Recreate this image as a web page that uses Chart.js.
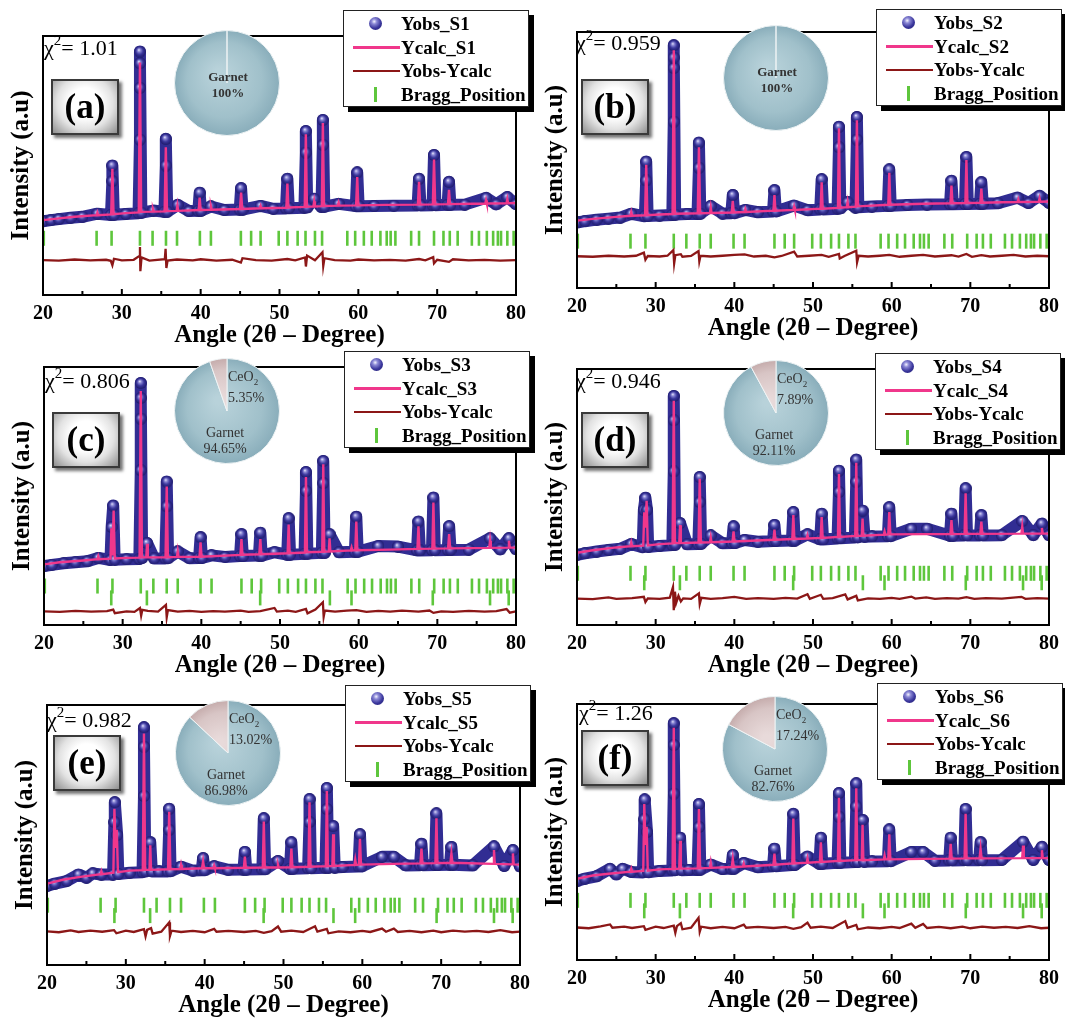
<!DOCTYPE html>
<html>
<head>
<meta charset="utf-8">
<script src="https://cdn.jsdelivr.net/npm/chart.js@4.4.1/dist/chart.umd.min.js"></script>
<style>
  body { margin: 0; background: #fff; }
  #page { position: relative; width: 1065px; height: 1021px; overflow: hidden;
          font-family: "Liberation Serif", "Times New Roman", serif; color: #000; }
  #page canvas { position: absolute; }
  .legend { position: absolute; width: 186px; height: 97px; box-sizing: border-box;
            border: 1.5px solid #222; background: #fff; box-shadow: 5px 5px 0 #000;
            font-weight: bold; font-size: 19px; padding-top: 1px; }
  .legend .row { height: 23.7px; display: flex; align-items: center; white-space: nowrap; }
  .legend .ico { position: relative; width: 57px; height: 23px; flex: none; }
  .ball { position: absolute; left: 25px; top: 5px; width: 13px; height: 13px; border-radius: 50%;
          background: radial-gradient(circle at 40% 35%, #f4f4ff 0, #8c89d6 22%, #3a369c 58%, #1e1b6b 100%); }
  .ln { position: absolute; left: 9px; width: 47px; top: 10px; height: 2.5px; }
  .tk { position: absolute; left: 30px; top: 4px; width: 2.5px; height: 15px; background: #5ec63c; }
  .tag { position: absolute; width: 68px; height: 56px; box-sizing: border-box;
         border: 2px solid #3a3a3a;
         background: radial-gradient(ellipse at 50% 42%, #ffffff 35%, #e2e2e2 62%, #8f8f8f 100%);
         box-shadow: 3px 3px 3px rgba(0,0,0,.55);
         font-weight: bold; font-size: 35px; display: flex; align-items: center; justify-content: center; }
  .chi { position: absolute; font-size: 22px; line-height: 1; white-space: nowrap; }
  .chi sup { font-size: 15px; position: relative; top: -2px; }
  .pielab { position: absolute; font-size: 14px; line-height: 16px; color: #333; white-space: nowrap; }
  .pielab sub { font-size: 9px; }
</style>
</head>
<body>
<div id="page"></div>
<script>
// ---- data (2θ in degrees, intensity in arbitrary units 0–100) ----
const sampleNames = ['S1', 'S2', 'S3', 'S4', 'S5', 'S6'];
const panelLetters = ['(a)', '(b)', '(c)', '(d)', '(e)', '(f)'];
const chiSquared = ['1.01', '0.959', '0.806', '0.946', '0.982', '1.26'];
const garnetPct = [100, 100, 94.65, 92.11, 86.98, 82.76];
const ceo2Pct = [0, 0, 5.35, 7.89, 13.02, 17.24];

const xMajor = [20, 30, 40, 50, 60, 70, 80];
const xMinor = [25, 35, 45, 55, 65, 75];

const garnetBragg = [20.1, 26.8, 28.7, 32.3, 33.9, 35.6, 37.0, 39.9, 41.3, 45.1, 46.4, 47.6, 49.9, 51.0,
  52.3, 53.3, 54.5, 55.4, 58.6, 59.6, 60.7, 61.7, 62.8, 63.6, 64.1, 64.7, 66.7, 67.7, 69.6, 70.8,
  71.6, 72.6, 74.4, 75.3, 76.3, 77.1, 77.7, 78.1, 78.9, 79.7];
const ceo2Bragg = [28.55, 33.08, 47.48, 56.34, 59.09, 69.42, 76.70, 79.07];
const garnetTickLevel = [21.9, 18.3, 15.1, 20.2, 23.0, 23.3];
const ceo2TickLevel = [null, null, 10.5, 16.5, 19.0, 19.2];

const yobsS1 = [[20,28.5],[21,28.9],[22,29.3],[23.5,29.8],[25,30.2],[26.9,31.4],[28.62,30.9],[28.8,44],[28.8,50.0],[28.98,31.0],
  [30.5,31.3],[32.12,31.6],[32.3,60],[32.3,80],[32.3,94.0],[32.3,89.5],[32.48,31.8],[34.0,32.6],
  [35.4,32.1],[35.58,50],[35.58,60.3],[35.76,32.2],[37.1,34.8],[38.5,32.4],[39.7,32.5],[39.87,39.5],[40.04,32.5],
  [41.3,34.2],[43,32.8],[44.95,33.0],[45.13,41.2],[45.31,33.0],[47.6,34.4],[49.2,33.3],
  [50.82,33.4],[51.0,44.9],[51.18,33.5],[53.16,33.7],[53.34,55],[53.34,63.3],[53.52,33.8],
  [54.4,37.2],[55.32,34.0],[55.5,58],[55.5,67.6],[55.68,34.1],[57.5,35.2],
  [59.68,34.3],[59.86,47.3],[60.04,34.3],[62,34.4],[64.5,34.5],[67.52,34.6],[67.7,44.9],[67.88,34.6],
  [69.42,34.7],[69.6,54.1],[69.78,34.7],[71.32,34.8],[71.5,43.7],[71.68,34.8],
  [73.5,34.9],[76.2,37.5],[77.5,35.0],[78.9,37.8],[80,35.1]];
const ycalcS1 = [[20,28.9],[22,29.6],[24,30.2],[26.8,30.8],[26.9,31.8],[27.0,30.8],[28.65,31.1],[28.8,48.7],[28.95,31.2],
  [30.5,31.6],[32.15,31.9],[32.3,89.8],[32.45,32.1],[33.85,32.2],[33.95,33.2],[34.05,32.2],
  [35.43,32.3],[35.58,57.0],[35.73,32.4],[36.95,32.5],[37.05,34.6],[37.15,32.5],
  [39.75,32.8],[39.87,37.6],[40.0,32.8],[41.2,32.9],[41.3,34.2],[41.4,32.9],
  [44.98,33.2],[45.13,39.5],[45.28,33.2],[47.5,33.5],[47.6,34.4],[47.7,33.5],
  [50.87,33.7],[51.0,43.0],[51.13,33.8],[53.2,34.0],[53.34,62.1],[53.48,34.1],
  [54.3,34.2],[54.4,36.2],[54.5,34.2],[55.37,34.3],[55.5,66.4],[55.65,34.4],
  [57.4,34.5],[57.5,35.6],[57.6,34.5],[59.72,34.6],[59.86,45.5],[60.0,34.6],
  [63.5,34.8],[67.55,34.9],[67.7,43.7],[67.85,34.9],[69.45,35.0],[69.6,52.3],[69.75,35.0],
  [71.37,35.1],[71.5,40.6],[71.63,35.1],[76.1,35.3],[76.2,36.6],[76.3,35.3],
  [78.8,35.4],[78.9,37.0],[79.0,35.4],[80,35.5]];
const diffS1 = [[20,13.5],[22,13.3],[24,13.7],[26,13.4],[28,13.6],[28.6,13.2],[28.8,11.5],[29.0,14.0],[30,13.4],[31.5,13.6],
  [32.2,15],[32.3,18.5],[32.35,9.2],[32.5,14.5],[33.5,13.3],[35.45,13.8],[35.55,17.8],[35.65,10.4],[35.8,13.3],
  [37,13.7],[39,13.4],[40,13.8],[42,13.3],[44,13.6],[45.1,12.5],[45.3,14.2],[47,13.5],[49,13.3],[51,13.9],[52,13.4],
  [53.25,14.5],[53.35,11.0],[53.5,15.2],[54.5,13.4],[55.45,16.5],[55.55,11.2],[55.7,14.2],[57,13.5],[59,13.3],
  [60,13.7],[62,13.4],[64,13.6],[66,13.3],[67.7,13.9],[68.5,13.4],[69.5,14.6],[69.6,12.2],[70,13.6],[71.5,12.8],
  [72,13.8],[74,13.4],[76,13.6],[78,13.3],[80,13.5]];

const yobsS2 = [[20,25.6],[21,26.1],[22.5,26.7],[24,27.1],[25.5,27.5],[26.9,29.0],[28.62,28.0],[28.8,42],[28.8,49.4],[28.98,28.1],
  [30.5,28.3],[32.12,28.5],[32.3,65],[32.3,86],[32.3,94.8],[32.3,90],[32.48,28.7],[34,28.9],
  [35.32,28.9],[35.5,47],[35.5,56.8],[35.68,29.0],[37.0,32.0],[38.5,29.1],[39.62,29.2],[39.8,36.3],[39.98,29.2],
  [41.4,30.5],[43,29.6],[44.92,29.9],[45.1,38.2],[45.28,29.9],[47.6,32.2],[49.3,30.4],
  [50.92,30.7],[51.1,42.5],[51.28,30.7],[53.12,31.0],[53.3,55],[53.3,63.0],[53.48,31.1],[54.4,33.5],
  [55.4,31.4],[55.58,58],[55.58,66.8],[55.76,31.5],[57.5,31.8],[59.52,32.1],[59.7,46.3],[59.88,32.1],
  [62,32.4],[64.5,32.6],[67.42,32.7],[67.6,41.9],[67.78,32.7],[69.32,32.8],[69.5,51.2],[69.68,32.8],
  [71.22,32.9],[71.4,41.3],[71.58,32.9],[73.5,33.1],[76.0,35.3],[77.4,33.2],[78.8,36.0],[80,33.3]];
const ycalcS2 = [[20,26.3],[22,27.0],[25,27.8],[26.8,28.2],[26.9,29.6],[27.0,28.2],[28.65,28.4],[28.8,48.1],[28.95,28.4],
  [30.5,28.7],[32.15,28.9],[32.3,92.9],[32.45,29.0],[35.35,29.2],[35.5,55.0],[35.65,29.2],
  [36.9,29.3],[37.0,31.5],[37.1,29.3],[39.67,29.5],[39.8,34.0],[39.93,29.5],[41.3,29.7],[41.4,30.8],[41.5,29.7],
  [44.97,30.2],[45.1,36.3],[45.23,30.2],[47.5,30.5],[47.6,31.8],[47.7,30.5],
  [50.97,31.0],[51.1,41.3],[51.23,31.0],[53.17,31.3],[53.3,62.4],[53.43,31.4],[54.3,31.6],[54.4,33.6],[54.5,31.6],
  [55.45,31.8],[55.58,65.5],[55.72,31.9],[59.57,32.5],[59.7,45.0],[59.83,32.5],
  [64,32.9],[67.47,33.1],[67.6,40.0],[67.73,33.1],[69.37,33.2],[69.5,50.0],[69.63,33.2],
  [71.27,33.3],[71.4,38.8],[71.53,33.3],[74,33.5],[76.0,33.6],[76.1,34.6],[76.2,33.6],[78.7,33.7],[78.8,35.0],[78.9,33.7],[80,33.8]];
const diffS2 = [[20,12.4],[22,12.2],[24,12.6],[26,12.3],[27.5,12.6],[28.5,13.8],[28.7,11.0],[29.0,12.5],[30.5,12.3],[31.5,12.6],
  [32.25,14.8],[32.35,9.6],[32.5,12.8],[33.2,13.2],[33.4,12.2],[34.5,12.5],[35.45,14.4],[35.55,10.4],[35.7,12.6],[37,12.3],
  [38.5,12.6],[40.0,12.9],[41.3,13.1],[42.5,12.3],[44,12.6],[45.1,12.0],[46,12.5],[47.6,14.2],[48,12.3],[49.5,12.6],
  [51.1,12.9],[52,12.2],[53.3,13.3],[53.4,11.5],[54,12.5],[55.5,14.6],[55.6,10.0],[55.8,12.6],[57,12.3],[58.5,12.6],
  [59.7,12.9],[61,12.2],[62.5,12.6],[64,12.9],[65.5,12.3],[67.6,12.8],[68.5,12.3],[69.5,13.3],[70.2,12.2],[71.4,12.8],
  [72.5,12.3],[74,12.6],[75.5,12.9],[77,12.3],[78.5,12.6],[80,12.4]];

const yobsS3 = [[20,22.8],[21,23.3],[22.5,23.9],[24,24.3],[25.5,24.7],[26.9,26.0],[28.45,25.2],[28.6,38],[28.8,46.3],[28.98,25.3],
  [30.5,25.5],[32.12,25.6],[32.3,60],[32.3,80],[32.3,93.8],[32.3,88],[32.48,26.0],[33.1,31.8],[34,25.8],
  [35.42,25.8],[35.6,46],[35.6,55.6],[35.78,25.9],[37.0,28.5],[38.5,25.9],[39.72,26.0],[39.9,34.0],[40.08,26.0],
  [41.3,27],[43,26.4],[44.92,26.7],[45.1,35.2],[45.28,26.7],[47.32,26.9],[47.5,35.8],[47.68,26.9],[49.3,28.2],
  [50.92,27.3],[51.1,41.4],[51.28,27.3],[53.12,27.6],[53.3,52],[53.3,59.3],[53.48,27.7],[55.32,28.0],[55.5,55],[55.5,63.6],[55.68,28.0],
  [56.3,35.2],[57.5,28.2],[59.52,28.4],[59.7,42.0],[59.88,28.4],[62.5,30.6],[65,30.4],[67.42,28.9],[67.6,40.1],[67.78,28.9],
  [69.32,29.0],[69.5,49.4],[69.68,29.0],[71.32,29.1],[71.5,38.3],[71.68,29.1],[74,29.2],[76.7,33.6],[78,29.3],[79.1,33.6],[80,29.4]];
const ycalcS3 = [[20,23.5],[22,24.3],[25,25.0],[26.8,25.5],[26.9,26.6],[27.0,25.5],[28.45,25.7],[28.57,37.5],[28.7,27],[28.85,44.4],[29.0,25.8],
  [30.5,26.0],[32.15,26.1],[32.3,90.7],[32.45,26.2],[33.0,26.2],[33.1,31.5],[33.2,26.2],[35.45,26.3],[35.6,53.7],[35.75,26.3],
  [36.9,26.4],[37.0,28.6],[37.1,26.4],[39.77,26.5],[39.9,32.0],[40.03,26.5],[44.97,27.2],[45.1,33.3],[45.23,27.2],
  [47.37,27.4],[47.5,33.3],[47.63,27.4],[50.97,27.8],[51.1,38.9],[51.23,27.8],[53.17,28.1],[53.3,57.4],[53.43,28.2],
  [55.37,28.4],[55.5,62.3],[55.63,28.4],[56.2,28.5],[56.3,33.6],[56.4,28.5],[59.0,28.9],[59.1,30.0],[59.2,28.9],[59.57,29.0],[59.7,40.1],[59.83,29.0],
  [64,29.2],[67.47,29.5],[67.6,38.3],[67.73,29.5],[69.37,29.6],[69.5,47.5],[69.63,29.6],[71.37,29.7],[71.5,35.2],[71.63,29.7],
  [76.6,29.9],[76.7,32.7],[76.8,29.9],[79.0,30.0],[79.1,32.7],[79.2,30.0],[80,30.0]];
const diffS3 = [[20,5.3],[22,5.1],[24,5.5],[26,5.2],[28,5.4],[28.8,6.0],[29.0,4.6],[30.5,5.3],[31.5,5.1],[32.2,6.6],[32.35,3.6],
  [32.5,5.9],[33.2,5.5],[34.5,5.2],[35.5,7.8],[35.6,3.0],[35.75,5.8],[37,5.2],[38.5,5.5],[40,5.1],[41.5,5.4],[43,5.2],
  [45,5.6],[46,5.1],[47.5,5.4],[49.3,6.6],[49.6,5.2],[51,5.6],[52,5.1],[53.3,6.2],[53.5,4.5],[54.5,6.0],[55.45,8.8],
  [55.55,3.2],[55.7,5.6],[57,5.2],[58.5,5.6],[59.7,5.8],[61,5.1],[62.5,5.5],[64,5.2],[65.5,5.6],[67.6,5.2],[69,5.6],
  [69.5,4.7],[70.5,5.3],[72,5.1],[74,5.5],[76,5.2],[77.5,5.4],[78.8,6.2],[79.2,4.8],[80,5.3]];

const yobsS4 = [[20,27.4],[21,28.0],[22.5,28.7],[24,29.3],[25.5,29.8],[26.9,31.6],[28.35,30.4],[28.5,45],[28.7,49.7],[28.9,45],[29.05,30.5],
  [30.5,30.9],[32.12,31.2],[32.3,60],[32.3,80],[32.3,89.5],[32.48,31.4],[33.1,39.8],[34,31.5],
  [35.42,31.6],[35.6,48],[35.6,57.8],[35.78,31.7],[37.0,35.0],[38.5,31.9],[39.72,32.0],[39.9,38.5],[40.08,32.0],
  [41.3,33.2],[43,32.5],[44.92,32.8],[45.1,39.1],[45.28,32.8],[47.32,33.0],[47.5,44.1],[47.68,33.0],[49.3,35.4],
  [50.92,33.4],[51.1,43.5],[51.28,33.4],[53.12,33.8],[53.3,52],[53.3,60.3],[53.48,33.9],[55.32,34.2],[55.5,56],[55.5,64.6],[55.68,34.2],
  [56.3,44.7],[56.55,34.5],[57.5,34.6],[59.52,34.7],[59.7,46.0],[59.88,34.7],[62.5,37.6],[64.5,37.6],[67.42,34.9],[67.6,43.5],[67.78,34.9],
  [69.22,35.0],[69.4,53.4],[69.58,35.0],[71.22,35.0],[71.4,42.9],[71.58,35.0],[74,35.1],[76.6,40.6],[78,35.1],[79.1,39.6],[80,35.1]];
const ycalcS4 = [[20,28.2],[22,29.2],[25,30.3],[26.8,30.8],[26.9,32.2],[27.0,30.8],[28.42,31.0],[28.55,44.0],[28.7,38],[28.85,48.5],[29.0,31.1],
  [30.5,31.6],[32.15,31.9],[32.3,87.6],[32.45,32.0],[33.0,32.0],[33.1,39.0],[33.2,32.0],[35.45,32.2],[35.6,57.1],[35.75,32.2],
  [36.9,32.3],[37.0,34.2],[37.1,32.3],[39.77,32.6],[39.9,36.6],[40.03,32.6],[44.97,33.3],[45.1,37.3],[45.23,33.3],
  [47.37,33.6],[47.5,42.9],[47.63,33.6],[49.2,33.8],[49.3,35.0],[49.4,33.8],[50.97,34.0],[51.1,42.2],[51.23,34.0],
  [53.17,34.4],[53.3,59.0],[53.43,34.4],[55.37,34.8],[55.5,63.4],[55.63,34.8],[56.2,34.9],[56.3,41.6],[56.4,34.9],
  [59.0,35.3],[59.1,36.5],[59.2,35.3],[59.57,35.4],[59.7,44.1],[59.83,35.4],[64,35.5],[67.47,35.5],[67.6,41.0],[67.73,35.5],
  [69.27,35.6],[69.4,51.5],[69.53,35.6],[71.27,35.6],[71.4,40.4],[71.53,35.6],[76.5,35.7],[76.6,38.5],[76.7,35.7],
  [79.0,35.7],[79.1,37.9],[79.2,35.7],[80,35.7]];
const diffS4 = [[20,10.3],[22,10.1],[24,10.8],[25,10.2],[27,10.5],[28.5,11.0],[28.7,9.0],[29,10.4],[30.5,10.2],[31.8,10.7],
  [32.2,14.8],[32.3,5.8],[32.45,13.0],[32.6,8.6],[32.9,11.4],[33.2,9.2],[33.5,10.4],[34.5,10.2],[35.5,12.4],[35.6,8.2],
  [35.8,10.6],[37,10.2],[38.5,10.5],[40,11.0],[41.5,10.2],[43,10.5],[45,10.2],[46.5,10.6],[48,10.3],[49.3,12.0],[49.6,10.2],
  [51.0,11.8],[51.3,10.2],[52.5,10.5],[54.1,12.0],[54.4,10.0],[55.5,11.4],[55.7,9.6],[57,10.4],[58.5,10.2],[60,10.6],
  [61,10.2],[62.5,11.1],[63,10.3],[64.4,10.8],[65.5,10.2],[67,10.5],[68.5,10.3],[69.5,10.9],[70.5,10.2],[72,10.5],
  [74,10.3],[76.5,11.0],[77,10.2],[78.5,10.5],[80,10.3]];

const yobsS5 = [[20,30.4],[21,31.3],[22.5,32.3],[24,34.8],[25,33.6],[25.8,35.2],[26.9,34.8],[28.38,34.8],[28.55,55],[28.6,62.6],[28.9,50],[29.05,35.0],
  [30.5,35.5],[32.12,35.7],[32.3,65],[32.3,91.4],[32.3,84],[32.48,36.0],[33.1,47.2],[33.3,36.0],[34.2,36.0],
  [35.32,36.0],[35.5,52],[35.5,60.1],[35.68,36.1],[37.0,37.8],[38.5,36.3],[39.62,36.4],[39.8,41.1],[39.98,36.4],
  [41.2,38.0],[43,36.6],[44.92,36.7],[45.1,43.5],[45.28,36.7],[47.32,36.8],[47.5,56.4],[47.68,36.8],[49.3,40.0],
  [50.82,37.0],[51.0,47.2],[51.18,37.0],[53.12,37.2],[53.3,55],[53.3,63.8],[53.48,37.2],[55.32,37.4],[55.5,60],[55.5,68.1],[55.68,37.4],
  [56.3,53.4],[56.5,37.5],[57.5,37.7],[59.52,37.9],[59.7,50.3],[59.88,37.9],[62.5,41.6],[64.0,41.6],[65.5,38.3],[67.32,38.4],[67.5,46.6],[67.68,38.4],
  [69.22,38.5],[69.4,58.3],[69.58,38.5],[71.12,38.6],[71.3,45.4],[71.48,38.6],[74,38.3],[76.7,45.6],[78,38.1],[79.1,44.2],[80,37.9]];
const ycalcS5 = [[20,31.3],[22,32.8],[24,33.8],[26.8,34.9],[26.9,36.0],[27.0,34.9],[28.42,35.5],[28.55,60.1],[28.7,45],[28.85,52.0],[29.0,35.7],
  [30.5,36.3],[32.15,36.5],[32.3,89.0],[32.45,36.6],[33.0,36.6],[33.1,46.0],[33.2,36.6],[35.35,36.8],[35.5,58.9],[35.65,36.8],
  [36.9,36.9],[37.0,38.5],[37.1,36.9],[39.67,37.2],[39.8,39.9],[39.93,37.2],[41.1,37.2],[41.2,38.2],[41.3,37.2],[44.97,37.4],[45.1,41.7],[45.23,37.4],
  [47.37,37.5],[47.5,55.2],[47.63,37.5],[49.2,37.5],[49.3,38.6],[49.4,37.5],[50.87,37.6],[51.0,44.8],[51.13,37.6],
  [53.17,37.8],[53.3,62.6],[53.43,37.8],[55.37,38.0],[55.5,66.9],[55.63,38.0],[56.2,38.1],[56.3,50.3],[56.4,38.1],
  [59.0,38.5],[59.1,40.5],[59.2,38.5],[59.57,38.6],[59.7,48.5],[59.83,38.6],[64,38.9],[67.37,39.1],[67.5,44.8],[67.63,39.1],
  [69.27,39.2],[69.4,56.4],[69.53,39.2],[71.17,39.3],[71.3,42.9],[71.43,39.3],[76.6,38.9],[76.7,44.2],[76.8,38.9],
  [79.0,38.7],[79.1,42.9],[79.2,38.7],[80,38.6]];
const diffS5 = [[20,12.9],[21.5,12.6],[23,13.3],[24,12.7],[25.5,13.2],[27,12.8],[28.5,13.4],[28.8,12.2],[30,13.2],[31,12.7],
  [32.3,13.8],[32.5,11.0],[32.7,13.5],[33.2,14.2],[33.4,12.1],[34.5,12.8],[35.5,16.4],[35.6,11.2],[35.8,13.2],[37,12.7],
  [38.5,13.1],[40,12.6],[41.2,13.9],[41.5,12.8],[43,13.1],[45,12.7],[46.5,13.1],[47.5,12.4],[48.5,13.0],[49.3,14.8],
  [49.7,12.8],[51,13.2],[52.5,12.7],[54,14.9],[54.3,12.8],[55.5,13.9],[55.7,12.2],[57,12.9],[58.5,12.6],[60,13.1],
  [61,12.7],[62.5,14.0],[63,12.8],[64,14.0],[64.5,12.7],[66,13.1],[67.5,12.6],[69,13.2],[70,12.6],[71.5,13.2],
  [73,12.8],[74.5,13.1],[76,12.7],[77.5,13.4],[79,12.6],[80,12.8]];

const yobsS6 = [[20,30.8],[21,31.8],[22.5,32.7],[24.2,35.6],[25,33.4],[25.8,35.6],[26.9,34.4],[28.38,34.2],[28.55,55],[28.6,62.7],[28.9,50],[29.05,34.3],
  [30.5,34.8],[32.12,35.0],[32.3,65],[32.3,92.5],[32.3,84],[32.48,35.1],[33.1,47.8],[33.3,35.1],[34.2,35.2],
  [35.32,35.2],[35.5,52],[35.5,60.9],[35.68,35.3],[37.0,37.3],[38.5,35.5],[39.62,35.7],[39.8,41.0],[39.98,35.7],
  [41.2,37.9],[43,36.2],[44.92,36.6],[45.1,43.5],[45.28,36.6],[47.32,37.1],[47.5,57.1],[47.68,37.1],[49.3,40.4],
  [50.82,37.6],[51.0,47.8],[51.18,37.6],[53.12,38.0],[53.3,56],[53.3,65.2],[53.48,38.0],[55.32,38.3],[55.5,60],[55.5,69.0],[55.68,38.3],
  [56.3,54.7],[56.5,38.4],[57.5,38.5],[59.52,38.6],[59.7,51.0],[59.88,38.6],[62.5,42.2],[64.0,42.2],[65.5,38.8],[67.32,38.9],[67.5,47.8],[67.68,38.9],
  [69.22,39.0],[69.4,59.0],[69.58,39.0],[71.12,39.0],[71.3,46.0],[71.48,39.0],[74,39.1],[76.7,46.2],[78,39.1],[79.1,44.2],[80,39.1]];
const ycalcS6 = [[20,31.7],[22,33.0],[24,33.7],[26.8,34.5],[26.9,35.6],[27.0,34.5],[28.42,34.8],[28.55,60.9],[28.7,45],[28.85,52.0],[29.0,34.9],
  [30.5,35.4],[32.15,35.6],[32.3,90.7],[32.45,35.6],[33.0,35.7],[33.1,46.6],[33.2,35.7],[35.35,35.8],[35.5,59.0],[35.65,35.8],
  [36.9,36.0],[37.0,38.0],[37.1,36.0],[39.67,36.3],[39.8,39.5],[39.93,36.3],[41.1,36.5],[41.2,37.6],[41.3,36.5],[44.97,37.2],[45.1,41.6],[45.23,37.2],
  [47.37,37.7],[47.5,55.3],[47.63,37.7],[49.2,38.0],[49.3,39.6],[49.4,38.0],[50.87,38.3],[51.0,46.0],[51.13,38.3],
  [53.17,38.7],[53.3,63.4],[53.43,38.7],[55.37,39.0],[55.5,67.1],[55.63,39.0],[56.2,39.0],[56.3,52.8],[56.4,39.0],
  [59.0,39.3],[59.1,40.8],[59.2,39.3],[59.57,39.3],[59.7,49.1],[59.83,39.3],[64,39.5],[67.37,39.6],[67.5,45.4],[67.63,39.6],
  [69.27,39.7],[69.4,57.1],[69.53,39.7],[71.17,39.7],[71.3,43.5],[71.43,39.7],[76.6,39.8],[76.7,44.7],[76.8,39.8],
  [79.0,39.8],[79.1,42.9],[79.2,39.8],[80,39.8]];
const diffS6 = [[20,12.7],[21.5,12.4],[23,13.1],[24.2,13.9],[24.5,12.6],[26,13.0],[27,12.5],[28.5,13.2],[28.7,11.8],[30,13.0],
  [31,12.5],[32.3,13.4],[32.5,10.6],[32.7,13.2],[33.2,14.4],[33.4,12.0],[34.5,12.6],[35.45,16.5],[35.6,11.0],[35.8,13.0],
  [37,12.4],[38.5,12.9],[40,12.4],[41.2,13.8],[41.5,12.6],[43,12.9],[45,12.5],[46.5,12.9],[47.5,12.2],[48.5,12.8],
  [49.3,14.6],[49.7,12.6],[51,13.0],[52.5,12.5],[54.1,15.2],[54.4,12.6],[55.5,13.7],[55.7,12.0],[57,12.7],[58.5,12.4],
  [60,12.9],[61,12.5],[62.5,14.2],[63,12.6],[64,14.1],[64.5,12.5],[66,12.9],[67.5,12.4],[69,13.0],[70,12.4],
  [71.5,13.0],[73,12.6],[74.5,12.9],[76,12.5],[77.5,13.2],[79,12.4],[80,12.6]];

const yobs = [yobsS1, yobsS2, yobsS3, yobsS4, yobsS5, yobsS6];
const ycalc = [ycalcS1, ycalcS2, ycalcS3, ycalcS4, ycalcS5, ycalcS6];
const diff = [diffS1, diffS2, diffS3, diffS4, diffS5, diffS6];

// ---- layout (page pixels) ----
const frames = [
  { L: 43, T: 24, R: 518, B: 295 }, { L: 577, T: 20, R: 1051, B: 288 },
  { L: 44, T: 355, R: 518, B: 625 }, { L: 577, T: 357, R: 1051, B: 625 },
  { L: 47, T: 693, R: 522, B: 965 }, { L: 577, T: 692, R: 1051, B: 960 }
];
const legendAt = [[343, 10], [876, 9], [344, 351], [875, 353], [345, 685], [877, 683]];
const tagAt = [[51, 79], [581, 79], [52, 412], [581, 412], [53, 735], [581, 730]];
const chiAt = [[44, 35], [576, 30], [45, 368], [576, 368], [47, 707], [579, 700]];
const pieAt = [[227, 83], [776, 78], [227, 411], [776, 413], [228, 753], [775, 749]];
const PIE_R = 52;
const Y_AXIS_W = 36, X_AXIS_H = 56, PAD_TOP = 6, PAD_RIGHT = 16;

const PINK = '#f0378b', NAVY = '#312d93', DIFF = '#8c1717', GREEN = '#5ec63c';
Chart.defaults.font.family = '"Liberation Serif", "Times New Roman", serif';
Chart.defaults.color = '#000';

const page = document.getElementById('page');

// shaded sphere used as the Yobs marker
function makeBall(r) {
  const c = document.createElement('canvas');
  c.width = c.height = 2 * r;
  const g = c.getContext('2d');
  const grad = g.createRadialGradient(r * 0.8, r * 0.7, 0, r, r, r);
  grad.addColorStop(0, '#f4f4ff');
  grad.addColorStop(0.25, '#8c89d6');
  grad.addColorStop(0.6, '#3a369c');
  grad.addColorStop(1, '#1e1b6b');
  g.fillStyle = grad;
  g.beginPath(); g.arc(r, r, r, 0, Math.PI * 2); g.fill();
  return c;
}
const ball = makeBall(6);

// box around the plot plus inward ticks on the bottom axis
const framePlugin = {
  id: 'frame',
  afterDatasetsDraw(chart) {
    const { ctx, chartArea: a } = chart;
    const x = chart.scales.x;
    ctx.save();
    ctx.strokeStyle = '#000';
    ctx.lineWidth = 2;
    ctx.strokeRect(a.left, a.top, a.right - a.left, a.bottom - a.top);
    ctx.beginPath();
    xMajor.forEach(v => { const p = x.getPixelForValue(v); ctx.moveTo(p, a.bottom); ctx.lineTo(p, a.bottom - 6); });
    xMinor.forEach(v => { const p = x.getPixelForValue(v); ctx.moveTo(p, a.bottom); ctx.lineTo(p, a.bottom - 4); });
    ctx.stroke();
    ctx.restore();
  }
};

function addEl(tag, cls, html, left, top) {
  const el = document.createElement(tag);
  if (cls) el.className = cls;
  if (html != null) el.innerHTML = html;
  el.style.left = left + 'px';
  el.style.top = top + 'px';
  page.appendChild(el);
  return el;
}

function pct(v) { return Number.isInteger(v) ? v + '%' : v.toFixed(2) + '%'; }

function drawPanel(i) {
  const f = frames[i];
  const canvas = document.createElement('canvas');
  canvas.width = f.R - f.L + Y_AXIS_W + PAD_RIGHT;
  canvas.height = f.B - f.T + PAD_TOP + X_AXIS_H;
  canvas.style.left = (f.L - Y_AXIS_W) + 'px';
  canvas.style.top = (f.T - PAD_TOP) + 'px';
  page.appendChild(canvas);

  const datasets = [
    { label: 'Ycalc_' + sampleNames[i], data: ycalc[i], showLine: true, borderColor: PINK,
      borderWidth: 2.4, pointRadius: 0, order: 0 },
    { label: 'Yobs_' + sampleNames[i], data: yobs[i], showLine: true, borderColor: NAVY,
      borderWidth: 12, borderJoinStyle: 'round', borderCapStyle: 'round',
      pointStyle: ball, pointRadius: 6, order: 1 },
    { label: 'Yobs-Ycalc', data: diff[i], showLine: true, borderColor: DIFF,
      borderWidth: 2.3, pointRadius: 0, order: 2 },
    { label: 'Bragg_Position', data: garnetBragg.map(x => ({ x, y: garnetTickLevel[i] })),
      pointStyle: 'line', rotation: 90, pointRadius: 7.5, borderColor: GREEN, borderWidth: 2.6, order: 3 }
  ];
  if (ceo2TickLevel[i] != null) {
    datasets.push({ label: 'Bragg CeO2', data: ceo2Bragg.map(x => ({ x, y: ceo2TickLevel[i] })),
      pointStyle: 'line', rotation: 90, pointRadius: 7.5, borderColor: GREEN, borderWidth: 2.6, order: 4 });
  }

  new Chart(canvas, {
    type: 'scatter',
    data: { datasets },
    options: {
      responsive: false,
      animation: false,
      events: [],
      layout: { padding: { left: 0, top: PAD_TOP, right: PAD_RIGHT, bottom: 0 } },
      plugins: { legend: { display: false }, tooltip: { enabled: false } },
      scales: {
        x: {
          type: 'linear', min: 20, max: 80,
          afterBuildTicks: s => { s.ticks = xMajor.map(v => ({ value: v })); },
          afterFit: s => { s.height = X_AXIS_H; s.paddingLeft = 0; s.paddingRight = 0; },
          ticks: { font: { size: 20, weight: 'bold' }, padding: 7, maxRotation: 0, autoSkip: false },
          grid: { display: false, drawTicks: false },
          border: { display: false },
          title: { display: true, text: 'Angle (2θ – Degree)', font: { size: 25, weight: 'bold' }, padding: 0 }
        },
        y: {
          min: 0, max: 100,
          afterFit: s => { s.width = Y_AXIS_W; s.paddingTop = 0; s.paddingBottom = 0; },
          ticks: { display: false },
          grid: { display: false, drawTicks: false },
          border: { display: false },
          title: { display: true, text: 'Intensity (a.u)', font: { size: 25, weight: 'bold' }, padding: 0 }
        }
      }
    },
    plugins: [framePlugin]
  });

  // phase-fraction pie
  const [cx, cy] = pieAt[i];
  const pc = document.createElement('canvas');
  const size = 2 * PIE_R + 2;
  pc.width = pc.height = size;
  pc.style.left = (cx - size / 2) + 'px';
  pc.style.top = (cy - size / 2) + 'px';
  page.appendChild(pc);
  const g = pc.getContext('2d');
  const blue = g.createRadialGradient(size * 0.42, size * 0.4, 4, size / 2, size / 2, PIE_R);
  blue.addColorStop(0, '#b8d2da'); blue.addColorStop(0.7, '#a0c0ca'); blue.addColorStop(1, '#8aaebb');
  const rose = g.createRadialGradient(size * 0.42, size * 0.4, 4, size / 2, size / 2, PIE_R);
  rose.addColorStop(0, '#e8dada'); rose.addColorStop(0.7, '#d8c5c5'); rose.addColorStop(1, '#c6adad');
  new Chart(pc, {
    type: 'pie',
    data: {
      labels: ['Garnet', 'CeO₂'],
      datasets: [{ data: [garnetPct[i], ceo2Pct[i]], backgroundColor: [blue, rose],
        borderColor: '#eef3f4', borderWidth: 1, hoverOffset: 0 }]
    },
    options: { responsive: false, animation: false, events: [],
      plugins: { legend: { display: false }, tooltip: { enabled: false } } }
  });

  if (ceo2Pct[i] > 0) {
    addEl('div', 'pielab', 'CeO<sub>2</sub><br>' + pct(ceo2Pct[i]), cx + 1, cy - 42);
    const gl = addEl('div', 'pielab', 'Garnet<br>' + pct(garnetPct[i]), cx - 42, cy + 14);
    gl.style.width = '80px'; gl.style.textAlign = 'center';
  } else {
    const gl = addEl('div', 'pielab', 'Garnet<br>' + pct(garnetPct[i]), cx - 39, cy - 14);
    gl.style.width = '80px'; gl.style.textAlign = 'center';
    gl.style.fontWeight = 'bold'; gl.style.fontSize = '13px';
  }

  // chi-squared, sample letter, legend
  addEl('div', 'chi', 'χ<sup>2</sup>= ' + chiSquared[i], chiAt[i][0], chiAt[i][1]);
  addEl('div', 'tag', panelLetters[i], tagAt[i][0], tagAt[i][1]);
  const lg = addEl('div', 'legend', null, legendAt[i][0], legendAt[i][1]);
  lg.innerHTML =
    '<div class="row"><span class="ico"><span class="ball"></span></span>Yobs_' + sampleNames[i] + '</div>' +
    '<div class="row"><span class="ico"><span class="ln" style="background:' + PINK + '"></span></span>Ycalc_' + sampleNames[i] + '</div>' +
    '<div class="row"><span class="ico"><span class="ln" style="background:' + DIFF + '"></span></span>Yobs-Ycalc</div>' +
    '<div class="row"><span class="ico"><span class="tk"></span></span>Bragg_Position</div>';
}

for (let i = 0; i < 6; i++) drawPanel(i);
</script>
</body>
</html>
